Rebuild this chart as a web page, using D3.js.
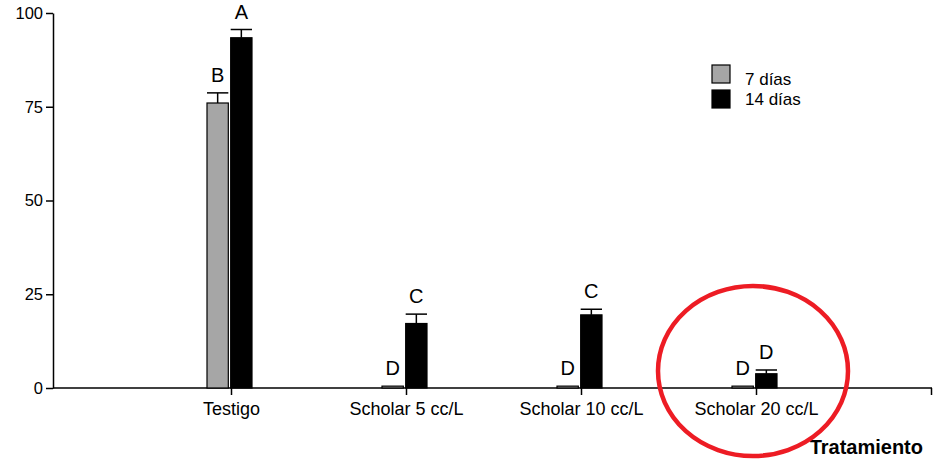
<!DOCTYPE html>
<html>
<head>
<meta charset="utf-8">
<script src="https://cdn.jsdelivr.net/npm/d3@7"></script>
<style>
  body { margin: 0; background: #fff; }
  text { font-family: "Liberation Sans", Arial, sans-serif; fill: #000; }
</style>
</head>
<body>
<div id="chart"></div>
<script>
  var categories = ["Testigo", "Scholar 5 cc/L", "Scholar 10 cc/L", "Scholar 20 cc/L"],
      series = ["7 días", "14 días"],
      values7 = [76, 0.5, 0.5, 0.5],
      values14 = [93.4, 17.2, 19.5, 3.8],
      errors7 = [2.7, 0, 0, 0],
      errors14 = [2.2, 2.5, 1.5, 1.0],
      letters7 = ["B", "D", "D", "D"],
      letters14 = ["A", "C", "C", "D"],
      yTicks = [0, 25, 50, 75, 100],
      colors = ["#a6a6a6", "#000000"];

  var width = 933, height = 460,
      margin = { top: 13, left: 53, bottom: 72, right: 1 },
      plotBottom = height - margin.bottom;

  var svg = d3.select("#chart").append("svg")
      .attr("width", width)
      .attr("height", height);

  var y = d3.scaleLinear().domain([0, 100]).range([plotBottom, margin.top]);
  var x = d3.scalePoint().domain(categories).range([231, 756]);
  var xInner = d3.scaleBand().domain(series).range([-24, 21]).paddingInner(0.1);

  // y axis
  var yAxis = svg.append("g")
      .attr("transform", "translate(" + margin.left + ",0)")
      .call(d3.axisLeft(y).tickValues(yTicks).tickSize(7).tickSizeOuter(0));
  yAxis.select(".domain").attr("stroke-width", 1.5);
  yAxis.selectAll(".tick line").attr("stroke-width", 1.5);
  yAxis.selectAll("text")
      .attr("x", -10)
      .style("font-size", "16.5px")
      .style("font-family", "'Liberation Sans', Arial, sans-serif");

  // x axis line with end tick
  svg.append("line")
      .attr("x1", margin.left).attr("x2", width - margin.right)
      .attr("y1", plotBottom).attr("y2", plotBottom)
      .attr("stroke", "#000").attr("stroke-width", 1.5);
  svg.append("line")
      .attr("x1", width - margin.right - 0.5).attr("x2", width - margin.right - 0.5)
      .attr("y1", plotBottom).attr("y2", plotBottom + 7)
      .attr("stroke", "#000").attr("stroke-width", 1.5);

  var xAxis = svg.append("g")
      .attr("transform", "translate(0," + plotBottom + ")")
      .call(d3.axisBottom(x).tickSize(7).tickSizeOuter(0));
  xAxis.select(".domain").remove();
  xAxis.selectAll(".tick line").attr("stroke-width", 1.5);
  xAxis.selectAll("text")
      .attr("y", 27).attr("dy", 0)
      .style("font-size", "18px")
      .style("font-family", "'Liberation Sans', Arial, sans-serif");

  var data = [];
  categories.forEach(function(c, i) {
    data.push({ cat: c, s: series[0], v: values7[i], e: errors7[i], l: letters7[i], color: colors[0] });
    data.push({ cat: c, s: series[1], v: values14[i], e: errors14[i], l: letters14[i], color: colors[1] });
  });

  var groups = svg.selectAll(".bar").data(data).enter().append("g")
      .attr("class", "bar")
      .attr("transform", function(d) { return "translate(" + (x(d.cat) + xInner(d.s)) + ",0)"; });

  var bw = xInner.bandwidth();

  groups.append("rect")
      .attr("x", 0)
      .attr("width", bw)
      .attr("y", function(d) { return y(d.v); })
      .attr("height", function(d) { return y(0) - y(d.v); })
      .attr("fill", function(d) { return d.color; })
      .attr("stroke", "#000").attr("stroke-width", 1.2);

  var err = groups.filter(function(d) { return d.e > 0; });
  err.append("line")
      .attr("x1", bw / 2).attr("x2", bw / 2)
      .attr("y1", function(d) { return y(d.v); })
      .attr("y2", function(d) { return y(d.v + d.e); })
      .attr("stroke", "#000").attr("stroke-width", 1.5);
  err.append("line")
      .attr("x1", 0).attr("x2", bw)
      .attr("y1", function(d) { return y(d.v + d.e); })
      .attr("y2", function(d) { return y(d.v + d.e); })
      .attr("stroke", "#000").attr("stroke-width", 1.5);

  groups.append("text")
      .attr("x", bw / 2)
      .attr("y", function(d) { return y(d.v + d.e) - 11; })
      .attr("text-anchor", "middle")
      .style("font-size", "20px")
      .text(function(d) { return d.l; });

  // legend
  var legend = svg.selectAll(".legend").data(series).enter().append("g")
      .attr("class", "legend")
      .attr("transform", function(d, i) { return "translate(712," + (65 + i * 25) + ")"; });
  legend.append("rect")
      .attr("width", 18).attr("height", 18)
      .attr("fill", function(d, i) { return colors[i]; })
      .attr("stroke", "#000").attr("stroke-width", 1.2);
  legend.append("text")
      .attr("x", 33)
      .attr("y", function(d, i) { return i == 0 ? 20 : 15; })
      .style("font-size", "17px")
      .text(function(d) { return d; });

  // axis title
  svg.append("text")
      .attr("x", 923).attr("y", 454)
      .attr("text-anchor", "end")
      .style("font-size", "20px")
      .style("font-weight", "bold")
      .text("Tratamiento");

  // red highlight around the last treatment
  svg.append("ellipse")
      .attr("cx", x(categories[3]) - 3)
      .attr("cy", 371)
      .attr("rx", 95)
      .attr("ry", 85)
      .attr("fill", "none")
      .attr("stroke", "#ed1c24")
      .attr("stroke-width", 4.5);
</script>
</body>
</html>
